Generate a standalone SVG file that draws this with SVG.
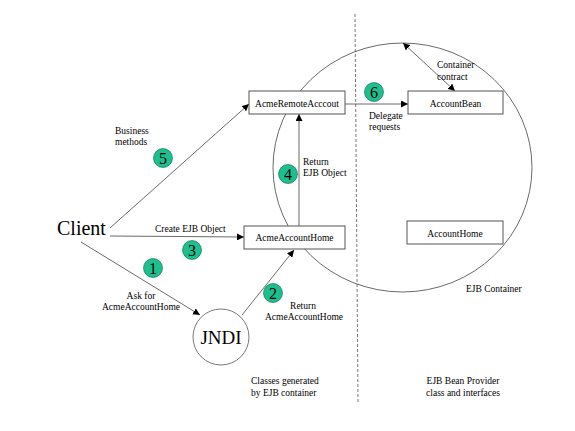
<svg xmlns="http://www.w3.org/2000/svg" width="575" height="431" viewBox="0 0 575 431" font-family="'Liberation Serif', 'DejaVu Serif', serif">
<defs>
<marker id="ah" viewBox="0 0 10 10" refX="10" refY="5" markerWidth="7" markerHeight="7" orient="auto-start-reverse" markerUnits="userSpaceOnUse">
<path d="M0,0 L10,5 L0,10 z" fill="#000"/>
</marker>
<style>
text{font-family:'Liberation Serif','DejaVu Serif',serif;fill:#000}
.lbl{font-size:9.5px}
.box{fill:#fff;stroke:#555;stroke-width:1}
.ln{stroke:#444;stroke-width:0.8;fill:none}
.arr{stroke:#444;stroke-width:0.8;fill:none;marker-end:url(#ah)}
.badge{fill:#1dbf8e;stroke:#0a6048;stroke-width:0.6}
.num{font-size:16px;text-anchor:middle}
.bt{font-size:9.5px;text-anchor:middle}
</style>
</defs>
<rect width="575" height="431" fill="#fff"/>
<g id="container">
<ellipse cx="402.5" cy="167.5" rx="129.5" ry="124.5" class="ln"/>
<text x="466" y="292" class="lbl">EJB Container</text>
</g>
<line id="divider" x1="355" y1="14" x2="358" y2="402" stroke="#555" stroke-width="0.8" stroke-dasharray="3,2"/>
<g id="connectors">
<line x1="110" y1="228" x2="249" y2="104" class="arr"/>
<line x1="110" y1="236" x2="244" y2="237" class="arr"/>
<line x1="81" y1="242" x2="200" y2="315" class="arr"/>
<line x1="242" y1="315" x2="294" y2="250" class="arr"/>
<line x1="299" y1="226" x2="299" y2="114" class="arr"/>
<line x1="345" y1="104" x2="408" y2="104" class="arr"/>
<line x1="403" y1="43" x2="455" y2="91" class="arr" marker-start="url(#ah)"/>
<text x="115" y="134" class="lbl">Business</text>
<text x="115" y="145" class="lbl">methods</text>
<text x="155" y="232" class="lbl">Create EJB Object</text>
<text x="141" y="299" class="bt">Ask for</text>
<text x="141" y="310" class="bt">AcmeAccountHome</text>
<text x="303" y="309" class="bt">Return</text>
<text x="304" y="320" class="bt">AcmeAccountHome</text>
<text x="303" y="165" class="lbl">Return</text>
<text x="303" y="176" class="lbl">EJB Object</text>
<text x="369" y="119" class="lbl">Delegate</text>
<text x="369" y="130" class="lbl">requests</text>
<text x="437" y="68" class="lbl">Container</text>
<text x="437" y="80" class="lbl">contract</text>
</g>
<g id="client"><text x="57" y="235" font-size="20">Client</text></g>
<g id="jndi">
<circle cx="221" cy="337" r="28" fill="#fff" stroke="#555" stroke-width="0.8"/>
<text x="221" y="344" font-size="19" text-anchor="middle">JNDI</text>
</g>
<g id="acmeRemote"><rect x="249" y="91" width="96" height="23" class="box"/><text x="297" y="107" class="bt">AcmeRemoteAcccout</text></g>
<g id="accountBean"><rect x="408" y="91" width="95" height="23" class="box"/><text x="455.5" y="107" class="bt">AccountBean</text></g>
<g id="acmeHome"><rect x="244" y="226" width="101" height="23" class="box"/><text x="294.5" y="241" class="bt">AcmeAccountHome</text></g>
<g id="accountHome"><rect x="407" y="221" width="96" height="23" class="box"/><text x="455" y="237" class="bt">AccountHome</text></g>
<g id="badges">
<circle cx="153" cy="268" r="9.5" class="badge"/><text x="153" y="274" class="num">1</text>
<circle cx="273" cy="293" r="9.5" class="badge"/><text x="273" y="299" class="num">2</text>
<circle cx="192" cy="250" r="9.5" class="badge"/><text x="192" y="256" class="num">3</text>
<circle cx="288" cy="174" r="9.5" class="badge"/><text x="288" y="180" class="num">4</text>
<circle cx="163" cy="158" r="9.5" class="badge"/><text x="163" y="164" class="num">5</text>
<circle cx="374" cy="92" r="9.5" class="badge"/><text x="374" y="98" class="num">6</text>
</g>
<g id="notes">
<text x="251" y="384" class="lbl">Classes generated</text>
<text x="251" y="396" class="lbl">by EJB container</text>
<text x="463" y="384" class="bt">EJB Bean Provider</text>
<text x="463" y="396" class="bt">class and interfaces</text>
</g>
</svg>
